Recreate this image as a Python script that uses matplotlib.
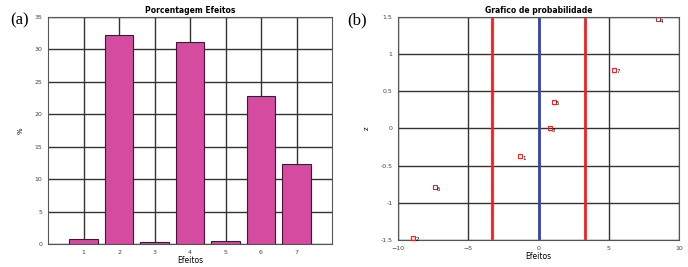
import numpy as np
import matplotlib.pyplot as plt

# Panel (a) - percent contribution of each effect
efeitos = [1, 2, 3, 4, 5, 6, 7]
porcentagem = [0.7, 32.3, 0.3, 31.2, 0.5, 22.8, 12.3]

# Panel (b) - normal probability plot
efeito_val = [-8.9, -7.4, -1.3, 0.8, 1.1, 5.4, 8.5]
z_val = [-1.47, -0.79, -0.37, 0.0, 0.36, 0.79, 1.47]
rotulos = ['2', '6', '1', '3', '5', '7', '4']
limite = 3.3

plt.rcParams['font.family'] = 'DejaVu Sans'
fig = plt.figure(figsize=(6.88, 2.67), dpi=100)

grid_kw = dict(color='#333333', linewidth=1.0)

# 1) bar chart
ax1 = fig.add_axes([48 / 688, 1 - 244 / 267, 284 / 688, 227 / 267])
ax1.bar(efeitos, porcentagem, width=0.8, color='#d44ba0', edgecolor='#4a1040',
        linewidth=0.8, zorder=3)
ax1.set_xlim(0, 8)
ax1.set_ylim(0, 35)
ax1.set_xticks(efeitos)
ax1.set_yticks(np.arange(0, 36, 5))
ax1.grid(True, zorder=0, **grid_kw)
ax1.set_axisbelow(True)
ax1.set_title('Porcentagem Efeitos', fontsize=5.5, fontweight='bold', pad=3)
ax1.set_xlabel('Efeitos', fontsize=5.5, labelpad=1)
ax1.set_ylabel('%', fontsize=5, labelpad=8)
fig.text(20 / 688, 1 - 20 / 267, '(a)', fontsize=12, family='Liberation Serif',
         va='center', ha='center')

# 2) probability plot
ax2 = fig.add_axes([398 / 688, 1 - 240 / 267, 281 / 688, 223 / 267])
ax2.plot([-limite, -limite], [-1.47, 1.47], color='#ff1a1a', linewidth=2, zorder=3)
ax2.plot([limite, limite], [-1.47, 1.47], color='#ff1a1a', linewidth=2, zorder=3)
ax2.plot([0, 0], [-1.47, 1.47], color='#3344bb', linewidth=2, zorder=3)
ax2.plot(efeito_val, z_val, linestyle='none', marker='s', markersize=3.5,
         markerfacecolor='none', markeredgecolor='#ee2222', markeredgewidth=0.8,
         zorder=4)
for xv, yv, lab in zip(efeito_val, z_val, rotulos):
    ax2.annotate(lab, (xv, yv), xytext=(1.5, -1.5), textcoords='offset points',
                 fontsize=4, va='center', ha='left', zorder=5)
ax2.set_xlim(-10, 10)
ax2.set_ylim(-1.5, 1.5)
ax2.set_xticks(np.arange(-10, 11, 5))
ax2.set_yticks(np.arange(-1.5, 1.6, 0.5))
ax2.set_yticklabels(['-1.5', '-1', '-0.5', '0', '0.5', '1', '1.5'])
ax2.grid(True, zorder=0, **grid_kw)
ax2.set_axisbelow(True)
ax2.set_title('Grafico de probabilidade', fontsize=5.5, fontweight='bold', pad=3)
ax2.set_xlabel('Efeitos', fontsize=5.5, labelpad=1)
ax2.set_ylabel('z', fontsize=5, labelpad=8)
fig.text(357 / 688, 1 - 20 / 267, '(b)', fontsize=12, family='Liberation Serif',
         va='center', ha='center')

for ax in (ax1, ax2):
    ax.tick_params(labelsize=4.5, length=0, pad=4, colors='#444444')
    for s in ax.spines.values():
        s.set_color('#555555')
        s.set_linewidth(0.8)

fig.savefig('out.png', dpi=100)
